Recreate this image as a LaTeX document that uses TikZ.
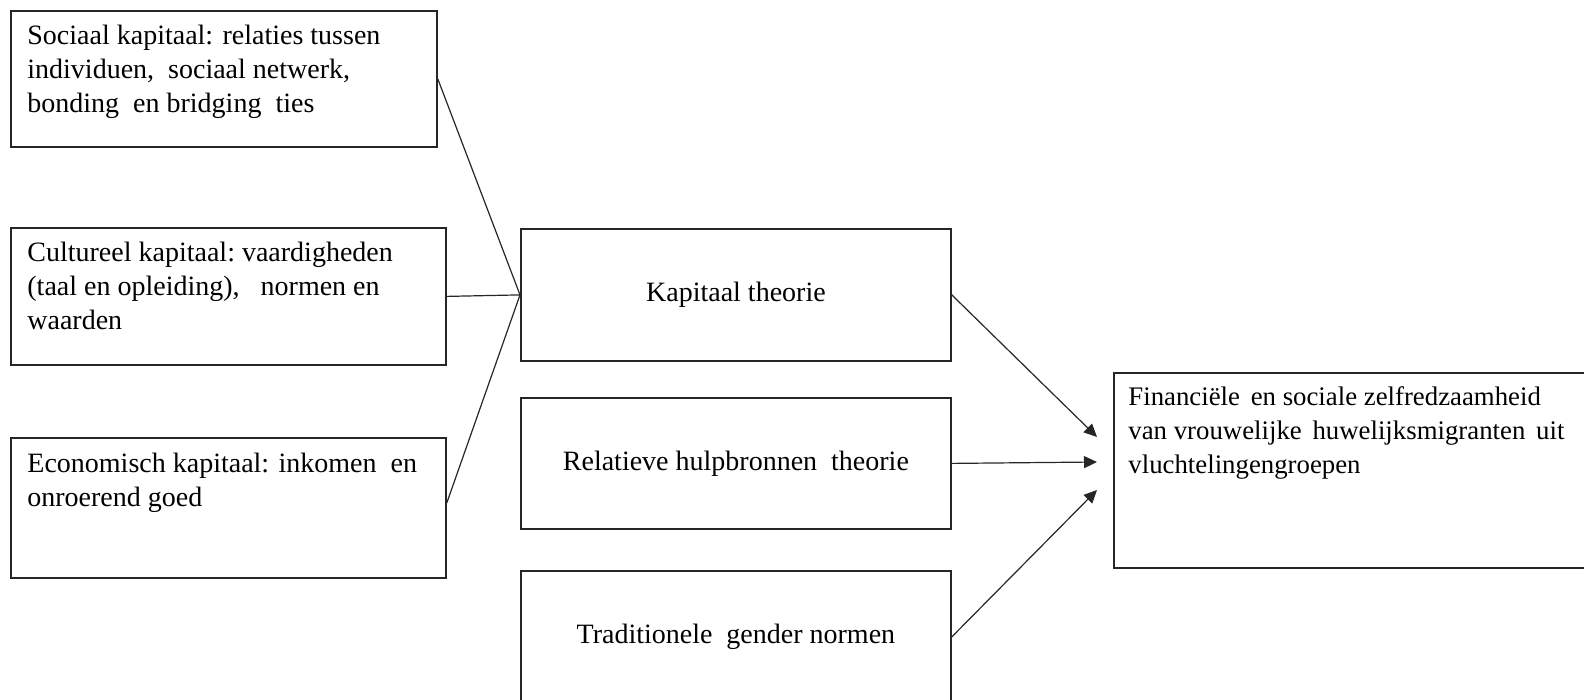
\documentclass[tikz,border=0pt]{standalone}
\usepackage{fontspec}
\setmainfont{Liberation Serif}
\usetikzlibrary{arrows.meta,calc}
\begin{document}
\begin{tikzpicture}[x=0.5pt,y=-0.5pt,
  box/.style={draw=black!85, line width=0.9pt, rectangle, inner sep=0pt, anchor=north west},
  txt/.style={font=\fontsize{14}{17}\selectfont, align=left, inner sep=0pt, anchor=north west},
  ctr/.style={font=\fontsize{14}{17}\selectfont},
  link/.style={line width=0.6pt, draw=black!85},
  arr/.style={link, -{Triangle[length=6.5pt,width=6pt]}}]
\useasboundingbox (0,0) rectangle (1584,700);
\clip (0,0) rectangle (1584,700);
% left column
\node[box, minimum width=213pt, minimum height=68pt] (A) at (10,10) {};
\node[txt] (At) at ($(A.north west)+(17,15)$) {Sociaal kapitaal: relaties tussen\\individuen,\ \ sociaal netwerk,\\bonding\ \ en bridging\ \ ties};
\node[box, minimum width=217.5pt, minimum height=68.5pt] (B) at (10,227) {};
\node[txt] (Bt) at ($(B.north west)+(17,15)$) {Cultureel kapitaal:\ vaardigheden\\(taal en opleiding),\ \ \ normen en\\waarden};
\node[box, minimum width=217.5pt, minimum height=70pt] (C) at (10,437) {};
\node[txt] (Ct) at ($(C.north west)+(17,16)$) {Economisch kapitaal: inkomen\ \ en\\onroerend goed};
% middle column
\node[box, ctr, minimum width=215pt, minimum height=66pt] (K) at (520,228) {Kapitaal theorie};
\node[box, ctr, minimum width=215pt, minimum height=65.5pt] (R) at (520,397) {Relatieve hulpbronnen\ \ theorie};
\node[box, ctr, minimum width=215pt, minimum height=66pt] (T) at (520,570) {Traditionele\ \ gender normen};
% right box
\node[box, minimum width=243.5pt, minimum height=97.5pt] (F) at (1113,372) {};
\node[txt, font=\fontsize{13.4}{17}\selectfont] (Ft) at ($(F.north west)+(15,14)$) {Financiële\hspace{0.15em} en sociale zelfredzaamheid\\van vrouwelijke\hspace{0.15em} huwelijksmigranten\hspace{0.15em} uit\\vluchtelingengroepen};
% connectors
\draw[link] (A.east) -- (K.west);
\draw[link] (B.east) -- (K.west);
\draw[link] ($(C.east)+(0,-5)$) -- (K.west);
\coordinate (p1) at ($(F.north west)+(-16,65)$);
\coordinate (p2) at ($(F.north west)+(-16,90)$);
\coordinate (p3) at ($(F.north west)+(-16,118)$);
\draw[arr] (K.east) -- (p1);
\draw[arr] (R.east) -- (p2);
\draw[arr] (T.east) -- (p3);
\end{tikzpicture}
\end{document}
